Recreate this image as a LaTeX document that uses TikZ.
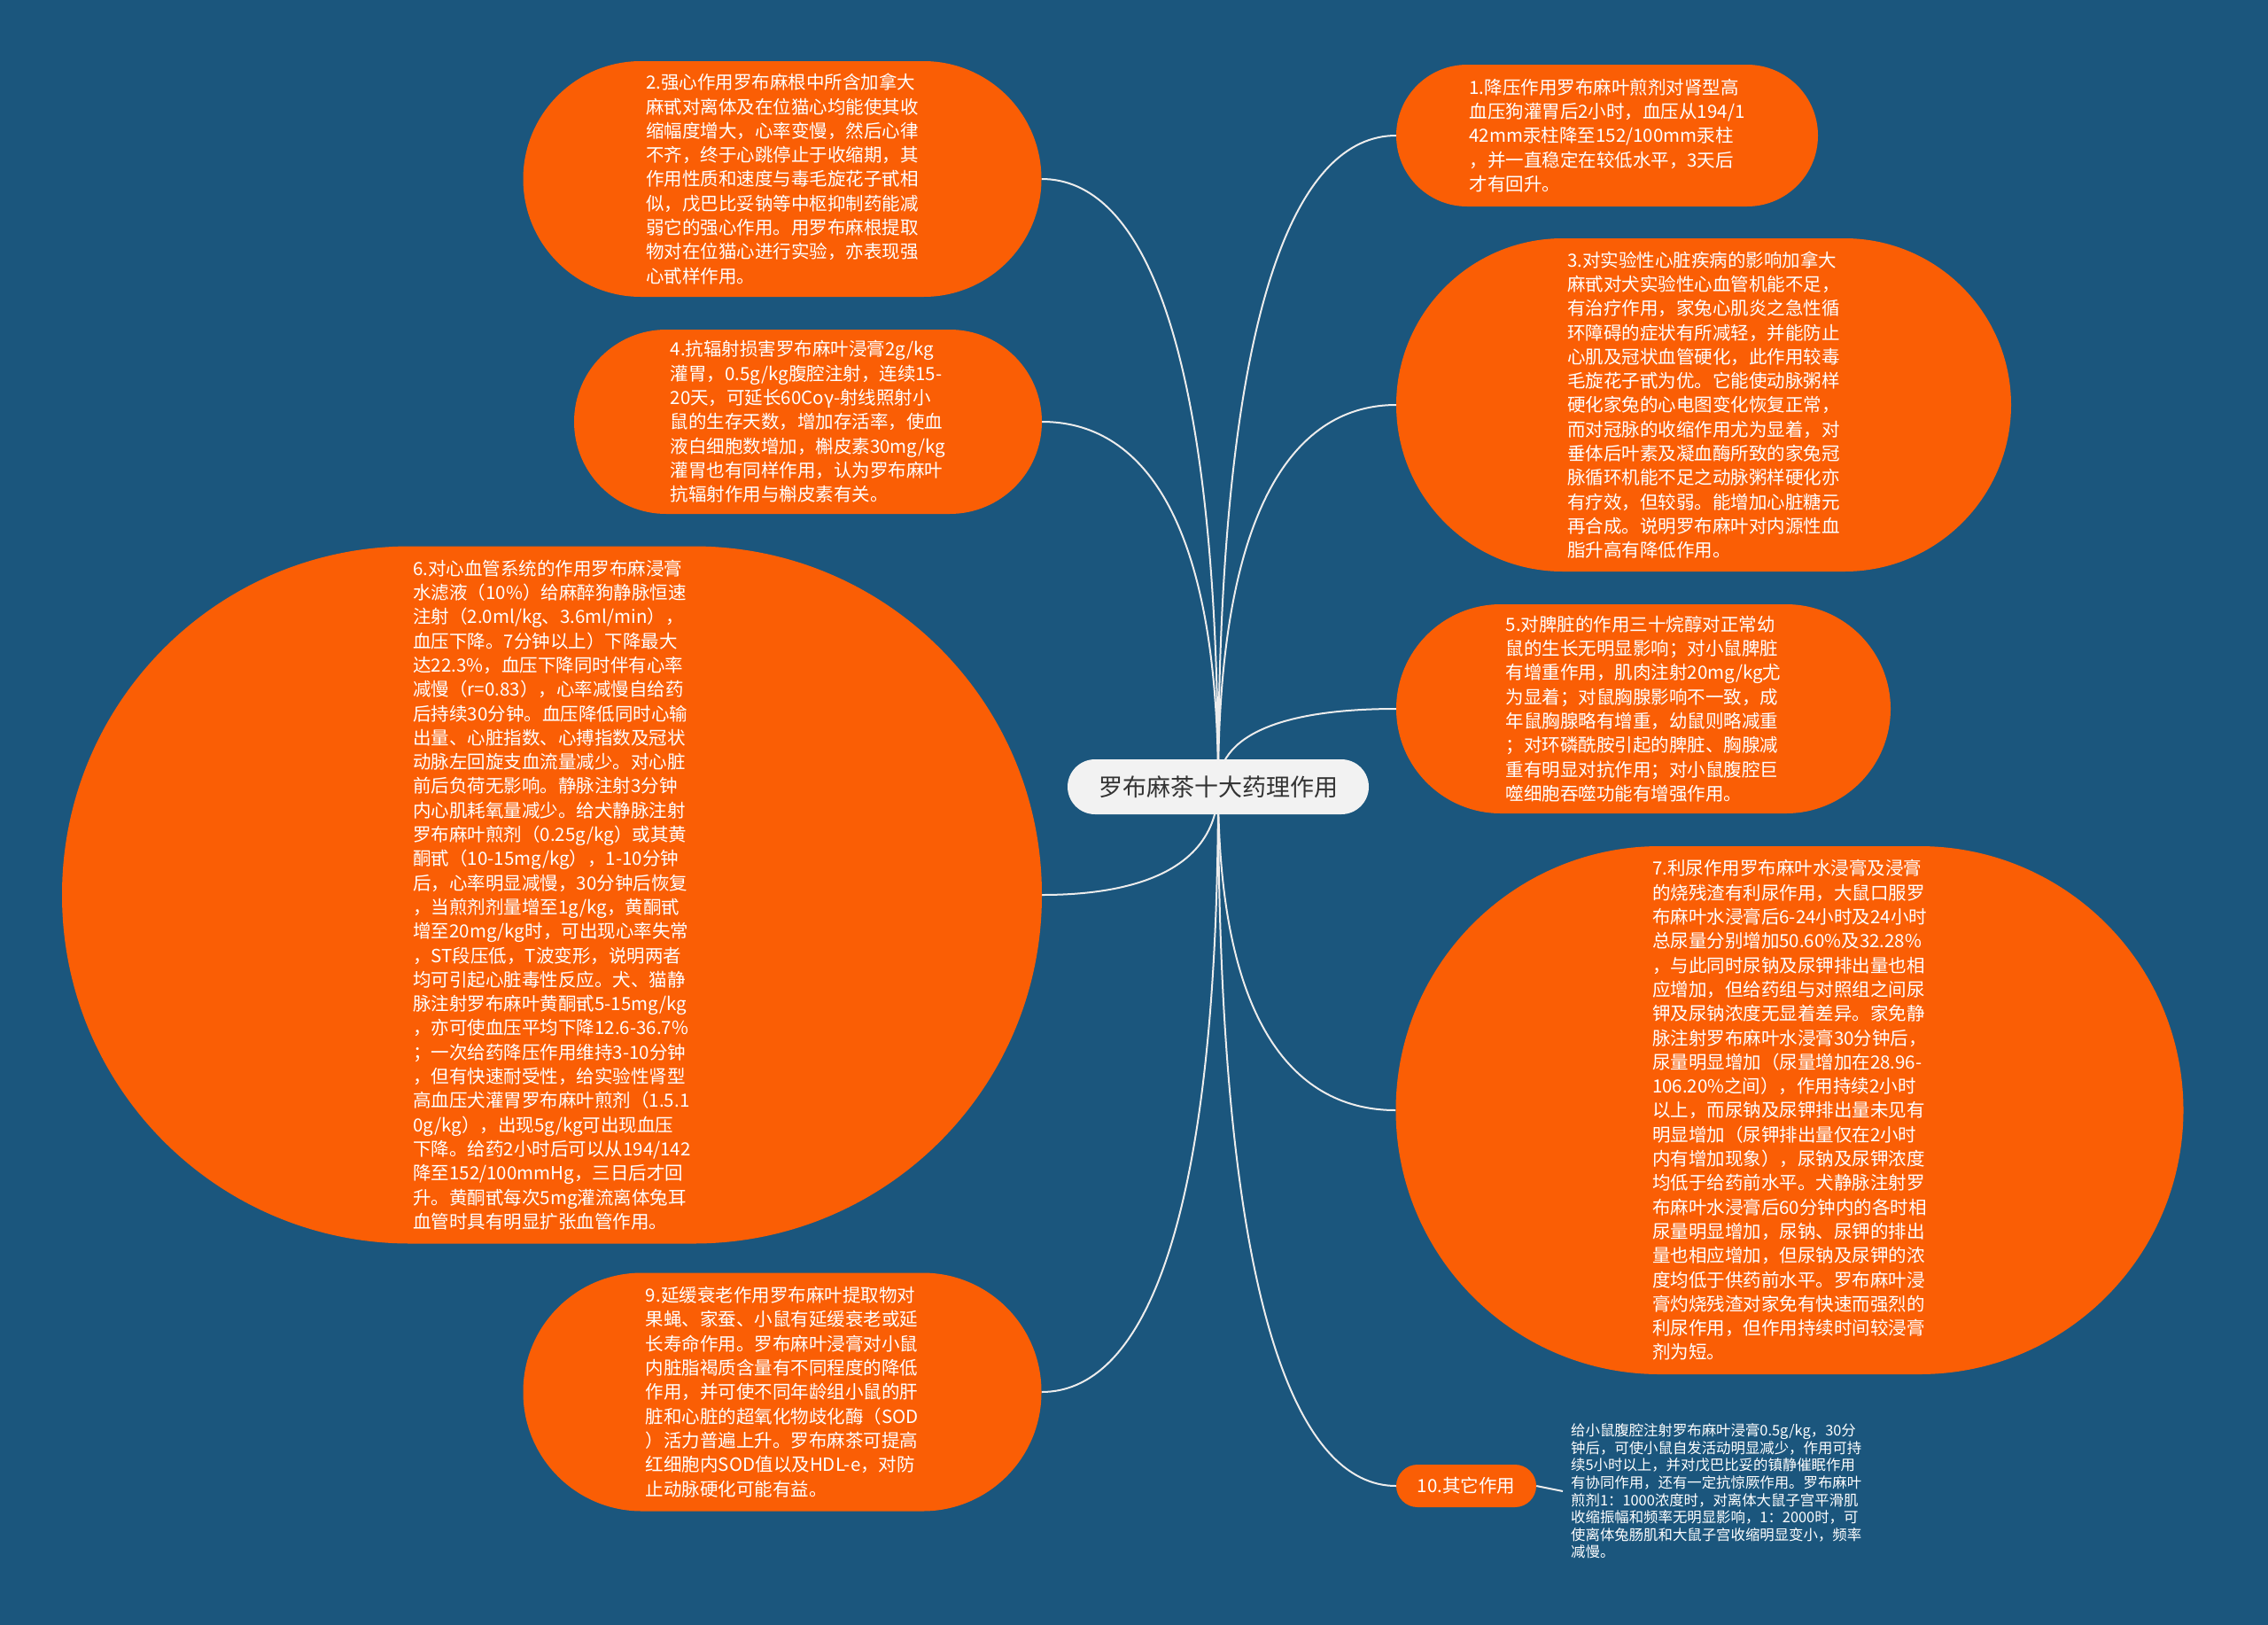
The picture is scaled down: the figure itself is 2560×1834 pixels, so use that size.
\documentclass[tikz,border=0pt]{standalone}
\usepackage{fontspec}
\setmainfont{Noto Sans CJK SC}
\usetikzlibrary{calc,backgrounds}
\definecolor{bgblue}{RGB}{27,86,125}
\definecolor{leaforange}{RGB}{250,94,5}
\definecolor{rootfill}{RGB}{242,242,242}
\definecolor{roottext}{RGB}{51,51,51}
\definecolor{linkcol}{RGB}{236,236,236}
\tikzset{
  root/.style={fill=rootfill, text=roottext, inner sep=0pt, minimum width=340pt, minimum height=62pt, rounded corners=31pt, font=\fontsize{27}{32}\selectfont},
  leaf/.style={fill=leaforange, text=white, align=left, inner sep=0pt, font=\fontsize{20.5}{27.3}\selectfont},
  notetext/.style={text=white, align=left, inner xsep=9pt, inner ysep=0pt, anchor=west, font=\fontsize{16.4}{19.6}\selectfont},
  link/.style={draw=linkcol, line width=2pt},
  branch/.style={to path={.. controls ($(\tikztostart)!0.75!(\tikztostart|-\tikztotarget)$) and ($(\tikztostart|-\tikztotarget)!0.45!(\tikztotarget)$) .. (\tikztotarget)}}
}
\begin{document}
\begin{tikzpicture}[x=1pt,y=-1pt]
\useasboundingbox (0,0) rectangle (2560,1834);

\node[root] (c) at (1375,888) {罗布麻茶十大药理作用};

\node[leaf, minimum width=476pt, minimum height=160pt, rounded corners=80pt] (n1) at (1814,153) {1.降压作用罗布麻叶煎剂对肾型高\\血压狗灌胃后2小时，血压从194/1\\42mm汞柱降至152/100mm汞柱\\，并一直稳定在较低水平，3天后\\才有回升。};

\node[leaf, minimum width=585pt, minimum height=266pt, rounded corners=133pt] (n2) at (883,202) {2.强心作用罗布麻根中所含加拿大\\麻甙对离体及在位猫心均能使其收\\缩幅度增大，心率变慢，然后心律\\不齐，终于心跳停止于收缩期，其\\作用性质和速度与毒毛旋花子甙相\\似，戊巴比妥钠等中枢抑制药能减\\弱它的强心作用。用罗布麻根提取\\物对在位猫心进行实验，亦表现强\\心甙样作用。};

\node[leaf, minimum width=694pt, minimum height=376pt, rounded corners=188pt] (n3) at (1923,457) {3.对实验性心脏疾病的影响加拿大\\麻甙对犬实验性心血管机能不足，\\有治疗作用，家兔心肌炎之急性循\\环障碍的症状有所减轻，并能防止\\心肌及冠状血管硬化，此作用较毒\\毛旋花子甙为优。它能使动脉粥样\\硬化家兔的心电图变化恢复正常，\\而对冠脉的收缩作用尤为显着，对\\垂体后叶素及凝血酶所致的家兔冠\\脉循环机能不足之动脉粥样硬化亦\\有疗效，但较弱。能增加心脏糖元\\再合成。说明罗布麻叶对内源性血\\脂升高有降低作用。};

\node[leaf, minimum width=528pt, minimum height=208pt, rounded corners=104pt] (n4) at (912,476) {4.抗辐射损害罗布麻叶浸膏2g/kg\\灌胃，0.5g/kg腹腔注射，连续15-\\20天，可延长60Coγ-射线照射小\\鼠的生存天数，增加存活率，使血\\液白细胞数增加，槲皮素30mg/kg\\灌胃也有同样作用，认为罗布麻叶\\抗辐射作用与槲皮素有关。};

\node[leaf, minimum width=558pt, minimum height=236pt, rounded corners=118pt] (n5) at (1855,800) {5.对脾脏的作用三十烷醇对正常幼\\鼠的生长无明显影响；对小鼠脾脏\\有增重作用，肌肉注射20mg/kg尤\\为显着；对鼠胸腺影响不一致，成\\年鼠胸腺略有增重，幼鼠则略减重\\；对环磷酰胺引起的脾脏、胸腺减\\重有明显对抗作用；对小鼠腹腔巨\\噬细胞吞噬功能有增强作用。};

\node[leaf, minimum width=1106pt, minimum height=787pt, rounded corners=393pt] (n6) at (623,1010) {6.对心血管系统的作用罗布麻浸膏\\水滤液（10\%）给麻醉狗静脉恒速\\注射（2.0ml/kg、3.6ml/min），\\血压下降。7分钟以上）下降最大\\达22.3\%，血压下降同时伴有心率\\减慢（r=0.83），心率减慢自给药\\后持续30分钟。血压降低同时心输\\出量、心脏指数、心搏指数及冠状\\动脉左回旋支血流量减少。对心脏\\前后负荷无影响。静脉注射3分钟\\内心肌耗氧量减少。给犬静脉注射\\罗布麻叶煎剂（0.25g/kg）或其黄\\酮甙（10-15mg/kg），1-10分钟\\后，心率明显减慢，30分钟后恢复\\，当煎剂剂量增至1g/kg，黄酮甙\\增至20mg/kg时，可出现心率失常\\，ST段压低，T波变形，说明两者\\均可引起心脏毒性反应。犬、猫静\\脉注射罗布麻叶黄酮甙5-15mg/kg\\，亦可使血压平均下降12.6-36.7\%\\；一次给药降压作用维持3-10分钟\\，但有快速耐受性，给实验性肾型\\高血压犬灌胃罗布麻叶煎剂（1.5.1\\0g/kg），出现5g/kg可出现血压\\下降。给药2小时后可以从194/142\\降至152/100mmHg，三日后才回\\升。黄酮甙每次5mg灌流离体兔耳\\血管时具有明显扩张血管作用。};

\node[leaf, minimum width=889pt, minimum height=596pt, rounded corners=298pt] (n7) at (2020,1253) {7.利尿作用罗布麻叶水浸膏及浸膏\\的烧残渣有利尿作用，大鼠口服罗\\布麻叶水浸膏后6-24小时及24小时\\总尿量分别增加50.60\%及32.28\%\\，与此同时尿钠及尿钾排出量也相\\应增加，但给药组与对照组之间尿\\钾及尿钠浓度无显着差异。家免静\\脉注射罗布麻叶水浸膏30分钟后，\\尿量明显增加（尿量增加在28.96-\\106.20\%之间），作用持续2小时\\以上，而尿钠及尿钾排出量未见有\\明显增加（尿钾排出量仅在2小时\\内有增加现象），尿钠及尿钾浓度\\均低于给药前水平。犬静脉注射罗\\布麻叶水浸膏后60分钟内的各时相\\尿量明显增加，尿钠、尿钾的排出\\量也相应增加，但尿钠及尿钾的浓\\度均低于供药前水平。罗布麻叶浸\\膏灼烧残渣对家免有快速而强烈的\\利尿作用，但作用持续时间较浸膏\\剂为短。};

\node[leaf, minimum width=585pt, minimum height=269pt, rounded corners=134pt] (n9) at (883,1571) {9.延缓衰老作用罗布麻叶提取物对\\果蝇、家蚕、小鼠有延缓衰老或延\\长寿命作用。罗布麻叶浸膏对小鼠\\内脏脂褐质含量有不同程度的降低\\作用，并可使不同年龄组小鼠的肝\\脏和心脏的超氧化物歧化酶（SOD\\）活力普遍上升。罗布麻茶可提高\\红细胞内SOD值以及HDL-e，对防\\止动脉硬化可能有益。};

\node[leaf, align=center, minimum width=158pt, minimum height=48pt, rounded corners=24pt, font=\fontsize{20.5}{24}\selectfont] (n10) at (1655,1677) {10.其它作用};

\node[notetext] (note) at (1764,1683) {给小鼠腹腔注射罗布麻叶浸膏0.5g/kg，30分\\钟后，可使小鼠自发活动明显减少，作用可持\\续5小时以上，并对戊巴比妥的镇静催眠作用\\有协同作用，还有一定抗惊厥作用。罗布麻叶\\煎剂1：1000浓度时，对离体大鼠子宫平滑肌\\收缩振幅和频率无明显影响，1：2000时，可\\使离体兔肠肌和大鼠子宫收缩明显变小，频率\\减慢。};

\begin{scope}[on background layer]
\fill[bgblue] (0,0) rectangle (2560,1834);
\draw[link] (c.center) to[branch] (n1.west);
\draw[link] (c.center) to[branch] (n3.west);
\draw[link] (c.center) to[branch] (n5.west);
\draw[link] (c.center) to[branch] (n7.west);
\draw[link] (c.center) to[branch] (n10.west);
\draw[link] (c.center) to[branch] (n2.east);
\draw[link] (c.center) to[branch] (n4.east);
\draw[link] (c.center) to[branch] (n6.east);
\draw[link] (c.center) to[branch] (n9.east);
\draw[link] (n10.east) -- (note.west);
\end{scope}
\end{tikzpicture}
\end{document}
